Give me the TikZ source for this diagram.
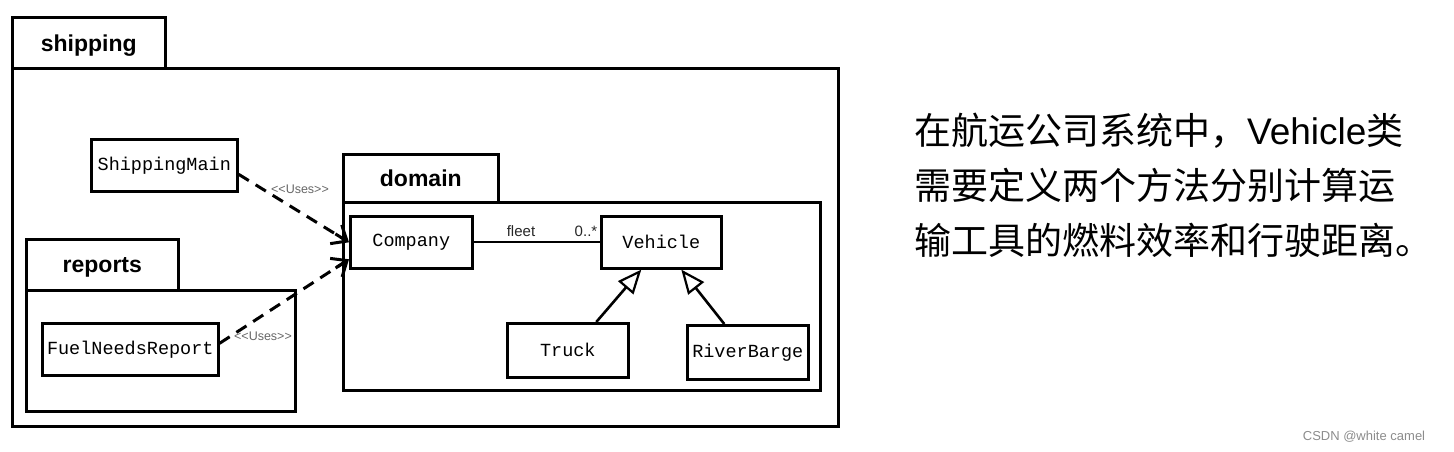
\documentclass[tikz,border=0pt]{standalone}
\usepackage{fontspec}
\setmainfont{Liberation Sans}
\setmonofont{Liberation Mono}
\newfontfamily\cjk{Noto Sans CJK SC}
\usetikzlibrary{arrows.meta,calc}
\newcommand{\usesword}{\mbox{<}\mbox{<}Uses\mbox{>}\mbox{>}}
\begin{document}
\begin{tikzpicture}[x=1pt,y=-1pt,
  pkg/.style={draw, line width=2.6pt, inner sep=0pt, anchor=north west},
  tab/.style={pkg, font=\bfseries\fontsize{23}{23}\selectfont, text depth=-3pt},
  cls/.style={draw, line width=2.6pt, inner sep=0pt, anchor=north west,
    font=\ttfamily\fontsize{18.5}{19}\selectfont},
  uses/.style={line width=3pt, dash pattern=on 12pt off 8pt},
  usestip/.style={line width=3pt, solid,
    -{Straight Barb[length=13pt,width=22pt,line width=3pt]}},
  gen/.style={line width=2.6pt,
    -{Triangle[open,length=24pt,width=20pt,line width=2.2pt,fill=white]}},
  usetxt/.style={font=\fontsize{12.5}{12.5}\selectfont, text=black!60, inner sep=0pt},
  assoc/.style={font=\fontsize{15}{15}\selectfont, inner sep=0pt, text=black!85},
  cjktxt/.style={anchor=base west, inner sep=0pt, font=\cjk\fontsize{37}{37}\selectfont}]
\useasboundingbox (0,0) rectangle (1454,452);

% packages
\node[tab, minimum width=153pt, minimum height=51pt] (shiptab) at (11,16) {shipping};
\node[pkg, minimum width=826pt, minimum height=358pt] (ship) at (11,67) {};
\node[tab, minimum width=155pt, minimum height=48pt] (domtab) at (342,153) {domain};
\node[pkg, minimum width=477pt, minimum height=188pt] (dom) at (342,201) {};
\node[tab, minimum width=152pt, minimum height=51pt] (reptab) at (25,238) {reports};
\node[pkg, minimum width=269pt, minimum height=121pt] (rep) at (25,289) {};

% classes
\node[cls, minimum width=146pt, minimum height=52pt] (sm) at (90,138) {ShippingMain};
\node[cls, minimum width=122pt, minimum height=52pt] (company) at (349,215) {Company};
\node[cls, minimum width=120pt, minimum height=52pt] (vehicle) at (600,215) {Vehicle};
\node[cls, minimum width=121pt, minimum height=54pt] (truck) at (506,322) {Truck};
\node[cls, minimum width=121pt, minimum height=54pt] (barge) at (686,324) {RiverBarge};
\node[cls, minimum width=176pt, minimum height=52pt] (fuel) at (41,322) {FuelNeedsReport};

% dependencies
\coordinate (s1) at ([yshift=-9pt]sm.east);
\coordinate (e1) at (company.west);
\coordinate (s2) at ([yshift=6pt]fuel.east);
\coordinate (e2) at ([yshift=-17pt]company.west);
\draw[uses] (s1) -- ($(e1)!6pt!(s1)$);
\draw[usestip] ($(e1)!16pt!(s1)$) -- (e1);
\draw[uses] (s2) -- ($(e2)!6pt!(s2)$);
\draw[usestip] ($(e2)!16pt!(s2)$) -- (e2);
\node[usetxt] (u1) at (300,189) {\usesword};
\node[usetxt] (u2) at (263,336) {\usesword};

% association
\draw[line width=2.2pt] (company.east) -- (vehicle.west);
\node[assoc] (fleet) at (521,231) {fleet};
\node[assoc] (mult) at (586,231) {0..*};

% generalization
\draw[gen] ([xshift=28.5pt]truck.north) -- ([xshift=-20pt]vehicle.south);
\draw[gen] ([xshift=-23.5pt]barge.north) -- ([xshift=20pt]vehicle.south);

% text
\node[cjktxt] (t1) at (914,144) {在航运公司系统中，{\normalfont Vehicle}类};
\node[cjktxt] (t2) at (914,199) {需要定义两个方法分别计算运};
\node[cjktxt] (t3) at (914,254) {输工具的燃料效率和行驶距离。};

\node[font=\fontsize{13}{13}\selectfont, text=black!45, inner sep=0pt] (wm) at (1364,437) {CSDN @white camel};
\end{tikzpicture}
\end{document}
